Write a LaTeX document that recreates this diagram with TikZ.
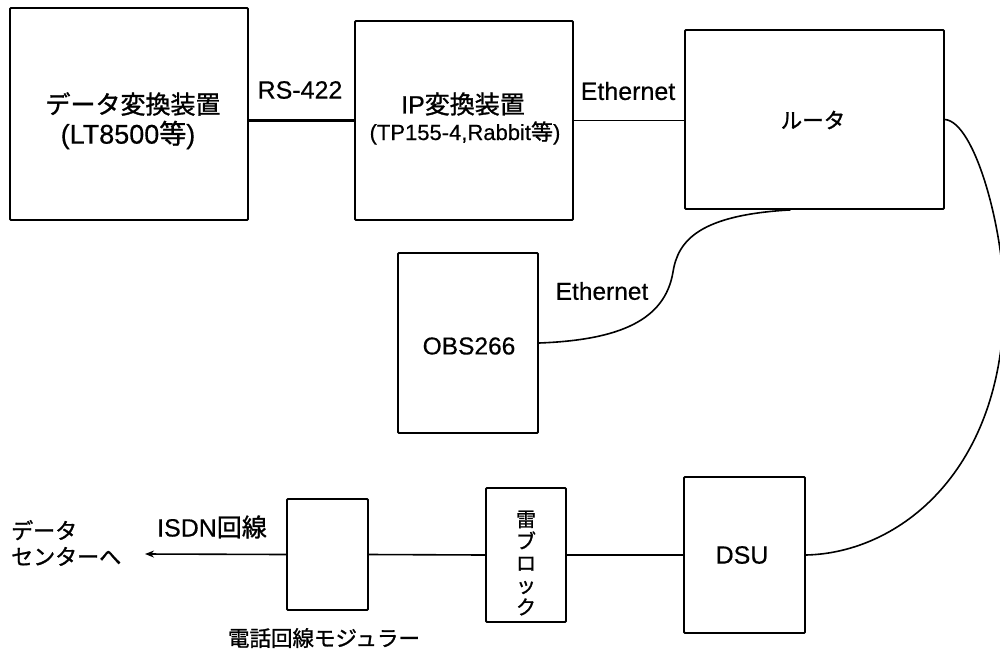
\documentclass[tikz,border=0pt]{standalone}
\usepackage{fontspec}
\setmainfont{Liberation Sans}[FakeBold=0.4]
\newfontfamily\jp{Noto Sans CJK JP}[FakeBold=1.2]
\usetikzlibrary{arrows.meta}
\begin{document}
\begin{tikzpicture}[x=1pt,y=-1pt,
  box/.style={draw, line width=1.8pt, rounded corners=1pt, inner sep=0pt},
  wire/.style={line width=1.6pt},
  lbl/.style={inner sep=0pt, font=\fontsize{25}{27}\selectfont},
  small/.style={inner sep=0pt, font=\fontsize{22}{24}\selectfont}]
\useasboundingbox (0,0) rectangle (1000,648);
\fill[white] (0,0) rectangle (1000,648);
% boxes
\node[box, minimum width=238pt, minimum height=212pt] (conv) at (129,114) {};
\node[box, minimum width=218pt, minimum height=199pt] (ipc) at (464,120.5) {};
\node[box, minimum width=259pt, minimum height=179pt] (router) at (814.5,119.5) {};
\node[box, minimum width=140pt, minimum height=180pt] (obs) at (468,343) {};
\node[box, minimum width=121pt, minimum height=156pt] (dsu) at (744.5,555) {};
\node[box, minimum width=80pt, minimum height=134pt] (kami) at (526,555) {};
\node[box, minimum width=81pt, minimum height=111pt] (modu) at (327.5,554.5) {};
% texts
\node[lbl] (t1a) at (133,104) {\jp データ変換装置};
\node[lbl, font=\fontsize{27}{29}\selectfont] (t1b) at (128,135) {(LT8500{\jp 等})};
\node[lbl] (rs) at (300,90) {RS-422};
\node[lbl] (t2a) at (463,104) {IP{\jp 変換装置}};
\node[small] (t2b) at (465,133) {(TP155-4,Rabbit{\jp 等})};
\node[lbl] (eth1) at (628,91) {Ethernet};
\node[inner sep=0pt, font=\fontsize{21.5}{23}\selectfont\jp] (t3) at (813,120) {ルータ};
\node[lbl, font=\fontsize{24.5}{26}\selectfont] (eth2) at (602,291) {Ethernet};
\node[lbl, font=\fontsize{24.5}{26}\selectfont] (t4) at (469,346) {OBS266};
\node[lbl] (t5) at (742,555) {DSU};
\node[inner sep=0pt, align=center, font=\fontsize{20}{22}\selectfont\jp] (t6) at (526,563) {雷\\ブ\\ロ\\ッ\\ク};
\node[lbl] (isdn) at (212,527) {ISDN{\jp 回線}};
\node[inner sep=0pt, font=\fontsize{21.5}{23}\selectfont\jp] (t7) at (324,638) {電話回線モジュラー};
\node[inner sep=0pt, align=left, anchor=west, font=\fontsize{22}{26}\selectfont\jp] (dc) at (11,543) {データ\\センターへ};
% connectors
\coordinate (tip) at (145,554);
\draw[line width=3.2pt] (conv.east |- ipc.west) -- (ipc.west);
\draw[wire] (ipc.east) -- (ipc.east -| router.west);
\draw[wire] ([xshift=-24pt]router.south) .. controls (700,215) and (678,240) .. (673,272) .. controls (665,320) and (620,340) .. (obs.east);
\draw[wire] (router.east) .. controls (975,122) and (1004,230) .. (1004,300) .. controls (1004,470) and (900,553) .. (dsu.east);
\draw[wire] (dsu.west) -- (kami.east);
\draw[wire] (kami.west) -- (modu.east);
\draw[wire, -{Stealth[length=9pt,width=7pt]}] (modu.west) -- (tip);
\end{tikzpicture}
\end{document}
